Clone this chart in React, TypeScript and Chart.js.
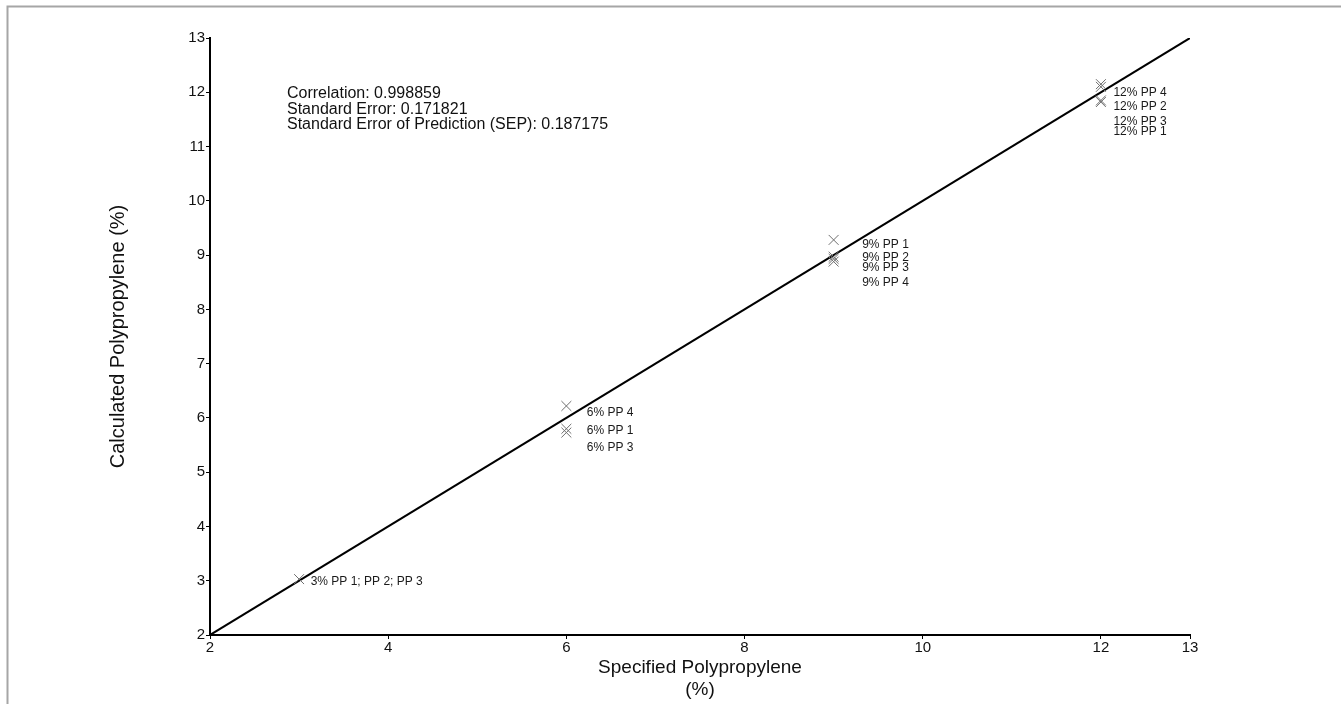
import React, { useEffect, useRef } from "react";
import { Chart, registerables } from "chart.js";

Chart.register(...registerables);

// ---- data ----
const specified = [3, 6, 6, 6, 9, 9, 9, 9, 12, 12, 12, 12];
const calculated = [3.03, 5.8, 5.73, 6.22, 9.28, 8.97, 8.93, 8.88, 11.82, 11.85, 12.1, 12.15];
const pointLabels = [
  "3% PP 1; PP 2; PP 3",
  "6% PP 1",
  "6% PP 3",
  "6% PP 4",
  "9% PP 1",
  "9% PP 2",
  "9% PP 3",
  "9% PP 4",
  "12% PP 1",
  "12% PP 2",
  "12% PP 3",
  "12% PP 4",
];
// label anchors in data units
const labelAtX = [3.13, 6.23, 6.23, 6.23, 9.32, 9.32, 9.32, 9.32, 12.14, 12.14, 12.14, 12.14];
const labelAtY = [2.98, 5.76, 5.46, 6.09, 9.19, 8.96, 8.76, 8.5, 11.27, 11.73, 11.45, 11.99];
const identityLine = [2, 13];
const xTicks = [2, 4, 6, 8, 10, 12, 13];
const yTicks = [2, 3, 4, 5, 6, 7, 8, 9, 10, 11, 12, 13];
const statsLines = [
  "Correlation: 0.998859",
  "Standard Error: 0.171821",
  "Standard Error of Prediction (SEP): 0.187175",
];
const statsAnchor = [2.864, 11.97];

const FONT = "'Liberation Sans', Arial, Helvetica, sans-serif";

export default function App() {
  const ref = useRef<HTMLCanvasElement | null>(null);

  useEffect(() => {
    if (!ref.current) return;

    const framePlugin = {
      id: "frame",
      beforeDraw(chart: any) {
        const ctx = chart.ctx;
        ctx.save();
        ctx.fillStyle = "#ffffff";
        ctx.fillRect(0, 0, chart.width, chart.height);
        ctx.strokeStyle = "#a6a6a6";
        ctx.lineWidth = 2;
        ctx.beginPath();
        ctx.moveTo(7.5, chart.height);
        ctx.lineTo(7.5, 6.5);
        ctx.lineTo(chart.width, 6.5);
        ctx.stroke();
        ctx.restore();
      },
    };

    const labelPlugin = {
      id: "pointLabels",
      afterDatasetsDraw(chart: any) {
        const ctx = chart.ctx;
        const xs = chart.scales.x;
        const ys = chart.scales.y;
        ctx.save();
        ctx.fillStyle = "#1a1a1a";
        ctx.textAlign = "left";
        ctx.textBaseline = "middle";
        ctx.font = `12px ${FONT}`;
        pointLabels.forEach((t, i) => {
          ctx.fillText(t, xs.getPixelForValue(labelAtX[i]), ys.getPixelForValue(labelAtY[i]));
        });
        ctx.font = `16px ${FONT}`;
        ctx.fillStyle = "#111111";
        const sx = xs.getPixelForValue(statsAnchor[0]);
        const sy = ys.getPixelForValue(statsAnchor[1]);
        statsLines.forEach((t, i) => {
          ctx.fillText(t, sx, sy + i * 15.5);
        });
        ctx.restore();
      },
    };

    const chart = new Chart(ref.current, {
      type: "scatter",
      data: {
        datasets: [
          {
            label: "Samples",
            data: specified.map((x, i) => ({ x, y: calculated[i] })),
            pointStyle: "crossRot",
            pointRadius: 7,
            pointHoverRadius: 7,
            pointBorderWidth: 1,
            borderColor: "#707070",
            backgroundColor: "#707070",
            showLine: false,
          },
          {
            label: "Identity",
            data: identityLine.map((v) => ({ x: v, y: v })),
            showLine: true,
            borderColor: "#000000",
            borderWidth: 2,
            pointRadius: 0,
            pointHoverRadius: 0,
          },
        ],
      },
      options: {
        responsive: false,
        animation: false,
        devicePixelRatio: 1,
        layout: { padding: { left: 0, top: 38, right: 151, bottom: 0 } },
        plugins: {
          legend: { display: false },
          tooltip: { enabled: false },
        },
        scales: {
          x: {
            type: "linear",
            min: 2,
            max: 13,
            afterFit(scale: any) {
              scale.height = 69;
            },
            afterBuildTicks(scale: any) {
              scale.ticks = xTicks.map((v) => ({ value: v }));
            },
            border: { display: true, color: "#000000", width: 2 },
            grid: {
              display: true,
              drawOnChartArea: false,
              drawTicks: true,
              tickLength: 4,
              tickColor: "#000000",
              tickWidth: 1,
            },
            ticks: {
              color: "#111111",
              font: { size: 15, family: FONT },
              padding: 0,
              maxRotation: 0,
              autoSkip: false,
            },
            title: {
              display: true,
              text: ["Specified Polypropylene", "(%)"],
              color: "#111111",
              font: { size: 19, family: FONT, lineHeight: 1.16 },
              padding: { top: 0, bottom: 3 },
            },
          },
          y: {
            type: "linear",
            min: 2,
            max: 13,
            afterFit(scale: any) {
              scale.width = 210;
            },
            afterBuildTicks(scale: any) {
              scale.ticks = yTicks.map((v) => ({ value: v }));
            },
            border: { display: true, color: "#000000", width: 2 },
            grid: {
              display: true,
              drawOnChartArea: false,
              drawTicks: true,
              tickLength: 4,
              tickColor: "#000000",
              tickWidth: 1,
            },
            ticks: {
              color: "#111111",
              font: { size: 15, family: FONT },
              padding: 1,
              autoSkip: false,
            },
            title: {
              display: true,
              text: "Calculated Polypropylene (%)",
              color: "#111111",
              font: { size: 20, family: FONT, lineHeight: 1.2 },
              padding: { top: 106, bottom: 0 },
            },
          },
        },
      },
      plugins: [framePlugin, labelPlugin],
    });

    return () => chart.destroy();
  }, []);

  return (
    <div style={{ position: "fixed", left: 0, top: 0, width: 1341, height: 704, overflow: "hidden" }}>
      <canvas ref={ref} width={1341} height={704} style={{ display: "block" }} />
    </div>
  );
}
